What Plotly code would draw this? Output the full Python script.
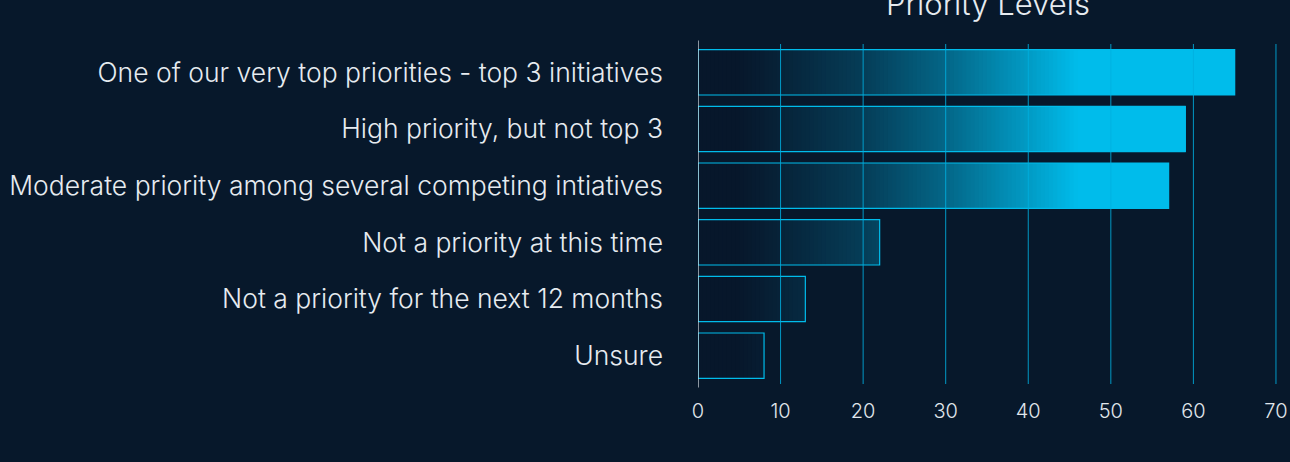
import plotly.graph_objects as go

categories = [
    "One of our very top priorities - top 3 initiatives",
    "High priority, but not top 3",
    "Moderate priority among several competing intiatives",
    "Not a priority at this time",
    "Not a priority for the next 12 months",
    "Unsure",
]
values = [65, 59, 57, 22, 13, 8]
x_ticks = [0, 10, 20, 30, 40, 50, 60, 70]
title_text = "Priority Levels"

BG = "#07182b"
CYAN = (0, 188, 235)
DARK = (7, 23, 43)
# gradient stops along the value axis (position, mix fraction)
stops = [(0, 0.0), (5, 0.0), (10, 0.07), (20, 0.23), (30, 0.48), (40, 0.80), (46, 1.0)]


def mix_at(x):
    if x <= stops[0][0]:
        return stops[0][1]
    for (x0, t0), (x1, t1) in zip(stops, stops[1:]):
        if x <= x1:
            return t0 + (t1 - t0) * (x - x0) / (x1 - x0)
    return 1.0


def color_at(x):
    t = mix_at(x)
    r, g, b = (round(d + (c - d) * t) for d, c in zip(DARK, CYAN))
    return f"rgb({r},{g},{b})"


fig = go.Figure()
step = 0.5
vmax = max(values)
k = 0
while k * step < vmax:
    start = k * step
    xs = [max(v - start, 0) for v in values]
    fig.add_trace(go.Bar(
        y=categories, x=xs, base=[start] * len(values), orientation="h",
        marker=dict(color=color_at(start + step / 2), line=dict(width=0)),
        width=0.8, hoverinfo="skip", showlegend=False,
    ))
    if mix_at(start) >= 1.0:
        break
    k += 1

# outline
fig.add_trace(go.Bar(
    y=categories, x=values, orientation="h",
    marker=dict(color="rgba(0,0,0,0)", line=dict(color="rgb(0,188,235)", width=1.2)),
    width=0.8, showlegend=False,
))

shapes = []
for t in x_ticks[1:]:
    shapes.append(dict(type="line", xref="x", yref="paper", x0=t, x1=t, y0=0, y1=1,
                       line=dict(color="rgba(0,175,225,0.85)", width=1), layer="above"))
shapes.append(dict(type="line", xref="x", yref="paper", x0=0, x1=0, y0=-0.01, y1=1.01,
                   line=dict(color="#e8eef4", width=1.2), layer="above"))

fig.update_layout(
    width=1290, height=462,
    paper_bgcolor=BG, plot_bgcolor=BG,
    barmode="overlay",
    margin=dict(l=698, r=0, t=44, b=78),
    font=dict(family="Inter", color="#e6ebf0"),
    title=dict(text=title_text, x=988 / 1290, xref="container", y=0.99, yref="container",
               xanchor="center", yanchor="middle",
               font=dict(size=31, color="#e6ebf0", weight=300)),
    shapes=shapes,
    xaxis=dict(range=[0, 71.7], tickvals=x_ticks, showgrid=False, zeroline=False,
               showline=False, tickfont=dict(size=20, color="#e0e6ec", weight=300),
               ticklabelstandoff=13, fixedrange=True),
    yaxis=dict(autorange="reversed", showgrid=False, zeroline=False, showline=False,
               tickfont=dict(size=26.5, color="#e6ebf0", weight=300),
               ticklabelstandoff=34, automargin=False, fixedrange=True),
)

fig.write_html("out.html", config={"displayModeBar": False},
               post_script="document.body.style.margin='0';document.body.style.background='#07182b';")
